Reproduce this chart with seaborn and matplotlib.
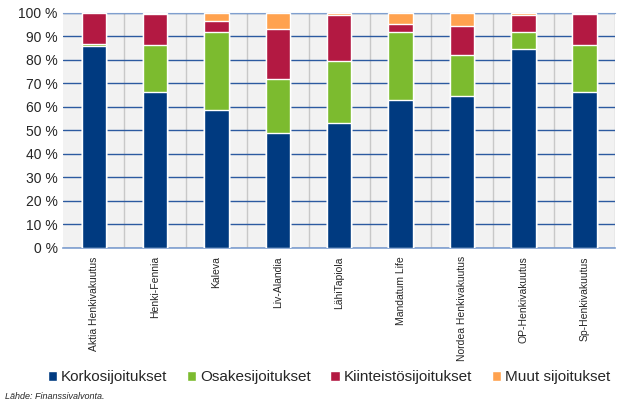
import numpy as np
import pandas as pd
import seaborn as sns
import matplotlib.pyplot as plt
from matplotlib.ticker import MultipleLocator, FuncFormatter
from matplotlib.patches import Patch

# Data (share of investments, %)
companies = ["Aktia Henkivakuutus", "Henki-Fennia", "Kaleva", "Liv-Alandia",
             "LähiTapiola", "Mandatum Life", "Nordea Henkivakuutus",
             "OP-Henkivakuutus", "Sp-Henkivakuutus"]
korko = [86.1, 66.3, 58.6, 49.1, 53.3, 63.0, 64.6, 84.7, 66.3]
osake = [0.6, 20.2, 33.5, 22.7, 26.4, 29.1, 17.3, 7.4, 20.2]
kiinteisto = [13.3, 13.1, 4.5, 21.3, 19.6, 3.4, 12.4, 7.0, 13.2]
muut = [0.0, 0.4, 3.4, 6.9, 0.7, 4.5, 5.7, 0.9, 0.3]

series = ["Korkosijoitukset", "Osakesijoitukset", "Kiinteistösijoitukset", "Muut sijoitukset"]
colors = ["#003A80", "#7CBB2F", "#B31942", "#FFA24F"]

df = pd.DataFrame({"Yhtiö": companies, series[0]: korko, series[1]: osake,
                   series[2]: kiinteisto, series[3]: muut})
cum = df[series].cumsum(axis=1)
cum["Yhtiö"] = df["Yhtiö"]

sns.set_style("white")
plt.rcParams["font.family"] = ["Liberation Sans", "DejaVu Sans"]

fig = plt.figure(figsize=(6.19, 4.05), dpi=100)
ax = fig.add_axes([0.102, 0.388, 0.892, 0.580])
ax.set_facecolor("#F2F2F2")

# stacked bars: draw cumulative totals back to front
for s, c in zip(series[::-1], colors[::-1]):
    sns.barplot(data=cum, x="Yhtiö", y=s, color=c, width=0.4, ax=ax,
                saturation=1, zorder=3)

ax.set_xlim(-0.5, len(companies) - 0.5)
ax.set_ylim(0, 100)
ax.yaxis.set_major_locator(MultipleLocator(10))
ax.yaxis.set_major_formatter(FuncFormatter(lambda v, p: f"{v:.0f} %"))
ax.set_xlabel("")
ax.set_ylabel("")

ax.grid(axis="y", color="#2C5AA0", linewidth=1.0, zorder=0)
ax.set_xticks(np.arange(len(companies)) + 0.5, minor=True)
ax.grid(axis="x", which="minor", color="#C8C8C8", linewidth=1.0, zorder=0)
ax.set_axisbelow(True)

ax.set_xticks(range(len(companies)))
ax.set_xticklabels(companies, rotation=90, fontsize=7.5)
ax.tick_params(axis="x", which="major", length=0, pad=6)
ax.tick_params(axis="x", which="minor", length=4, color="#7F9FCF", direction="out")
ax.tick_params(axis="y", labelsize=10, length=0, pad=4)

for side in ["left", "right"]:
    ax.spines[side].set_visible(False)
ax.spines["bottom"].set_color("#7F9FCF")
ax.spines["top"].set_color("#7F9FCF")
ax.spines["bottom"].set_linewidth(1.2)

handles = [Patch(facecolor=c, label=s) for s, c in zip(series, colors)]
fig.legend(handles=handles, loc="center", bbox_to_anchor=(0.531, 0.068), ncol=4,
           frameon=False, fontsize=11, handlelength=0.6, handleheight=0.6,
           handletextpad=0.25, columnspacing=1.3)

fig.text(0.008, 0.015, "Lähde: Finanssivalvonta.", fontsize=6.5, style="italic")

fig.savefig("out.png", dpi=100)
